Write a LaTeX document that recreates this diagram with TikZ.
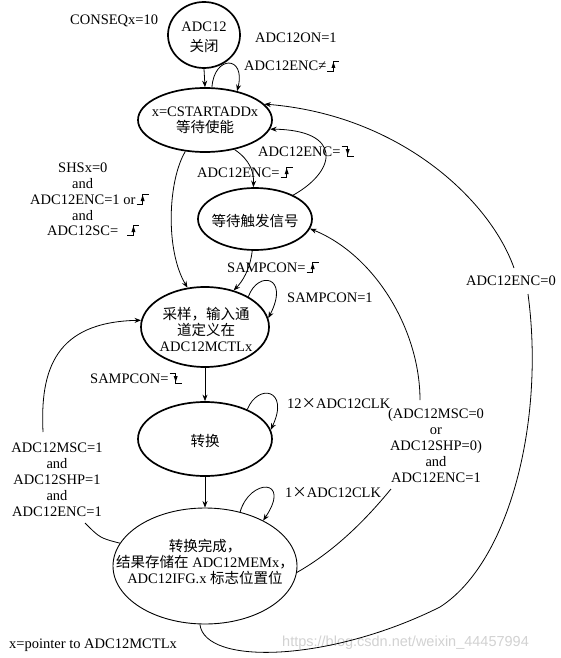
\documentclass[tikz,border=0pt]{standalone}
\usepackage{fontspec}
\setmainfont{Liberation Serif}
\newfontfamily\cjk{Noto Sans CJK SC}
\newfontfamily\wmfont{Liberation Sans}
\usetikzlibrary{shapes.geometric,arrows.meta}
\begin{document}
\begin{tikzpicture}[x=1pt,y=-1pt,
  every node/.style={font=\fontsize{14.5}{16}\selectfont},
  st/.style={ellipse,draw,line width=1.7pt,inner sep=0pt},
  stthin/.style={ellipse,draw,line width=0.9pt,inner sep=0pt},
  txt/.style={align=center,inner sep=0pt},
  lbl/.style={inner sep=0pt,anchor=base west},
  conn/.style={line width=0.8pt,-{Stealth[length=6.5pt,width=5pt]}},
  wire/.style={line width=0.8pt},
  risepic/.pic={\draw[line width=0.9pt] (0,0) -- (6,0) -- (6,-10) -- (12,-10);
                \fill (6,-9) -- (4,-3) -- (8,-3) -- cycle;},
  fallpic/.pic={\draw[line width=0.9pt] (0,-10) -- (6,-10) -- (6,0) -- (12,0);
                \fill (6,-1) -- (4,-7) -- (8,-7) -- cycle;},
]
\useasboundingbox[fill=white] (0,0) rectangle (560,658);

% states
\node[st,minimum width=72pt,minimum height=66pt] (e1) at (204,35) {};
\node[txt,font=\fontsize{14.5}{20}\selectfont] (t1) at (204,37) {ADC12\\{\cjk 关闭}};
\node[st,minimum width=134pt,minimum height=64pt] (e2) at (205,120) {};
\node[txt] (t2) at (205,120) {x=CSTARTADDx\\{\cjk 等待使能}};
\node[st,minimum width=114pt,minimum height=62pt] (e3) at (255,219) {};
\node[txt] (t3) at (255,221) {\cjk 等待触发信号};
\node[st,minimum width=128pt,minimum height=80pt] (e4) at (205,327) {};
\node[txt] (t4) at (206,329) {{\cjk 采样，输入通}\\{\cjk 道定义在}\\ADC12MCTLx};
\node[st,minimum width=134pt,minimum height=74pt] (e5) at (205,439) {};
\node[txt] (t5) at (205,441) {\cjk 转换};
\node[stthin,minimum width=184pt,minimum height=116pt] (e6) at (205,566) {};
\node[txt] (t6) at (205,562) {{\cjk 转换完成，}\\{\cjk 结果存储在} ADC12MEMx{\cjk ，}\\ADC12IFG.x {\cjk 标志位置位}};

% simple labels
\node[lbl] (lcs) at (70,25) {CONSEQx=10};
\node[lbl] (lon) at (255,43) {ADC12ON=1};
\node[lbl] (lsc1) at (287,302) {SAMPCON=1};
\node[lbl] (l12) at (287,408) {12{\cjk ×}ADC12CLK};
\node[lbl] (l1c) at (285,497) {1{\cjk ×}ADC12CLK};
\node[lbl] (lptr) at (9,648) {x=pointer to ADC12MCTLx};
\node[lbl,font=\wmfont\fontsize{14.5}{16}\selectfont,text=gray!35] (wm) at (282,646) {https://blog.csdn.net/weixin\_44457994};

% labels with edge symbols
\node[lbl] (l1) at (244,71) {ADC12ENC≠};
\pic at ([xshift=1pt]l1.base east) {risepic};
\node[lbl] (l2) at (197,177) {ADC12ENC=};
\pic at ([xshift=1pt]l2.base east) {risepic};
\node[lbl] (l3) at (258,156) {ADC12ENC=};
\pic at ([xshift=1pt]l3.base east) {fallpic};
\node[lbl] (l4) at (227,272) {SAMPCON=};
\pic at ([xshift=1pt]l4.base east) {risepic};
\node[lbl] (l5) at (90,383) {SAMPCON=};
\pic at ([xshift=1pt]l5.base east) {fallpic};

\node[lbl] (s1) at (58,172) {SHSx=0};
\node[lbl] (s2) at (72,188) {and};
\node[lbl] (s3) at (30,204) {ADC12ENC=1 or};
\pic at ([xshift=1pt]s3.base east) {risepic};
\node[lbl] (s4) at (72,220) {and};
\node[lbl] (s5) at (47,235) {ADC12SC=};
\pic at ([xshift=9pt]s5.base east) {risepic};

% connectors
\draw[conn] (e1.south) -- (e2.north);
\draw[conn] (e2.78) .. controls (214,55) and (246,55) .. (e2.42);
\draw[conn] (e2.-45) .. controls (250,160) and (254,172) .. (e3.93);
\draw[conn] (e3.32) .. controls (338,170) and (342,130) .. (e2.-8);
\draw[conn] (e2.-122) .. controls (168,180) and (165,250) .. (e4.114);
\draw[conn] (e3.-95) .. controls (250,270) and (242,282) .. (e4.52);
\draw[conn] (e4.35) .. controls (258,270) and (290,276) .. (e4.8);
\draw[conn] (e4.south) -- (e5.north);
\draw[conn] (e5.35) .. controls (258,383) and (290,389) .. (e5.8);
\draw[conn] (e5.south) -- (e6.north);
\draw[conn] (e6.57) .. controls (250,478) and (292,478) .. (e6.38);

% left return
\node[align=center,inner sep=0pt] (lmsc) at (57,480) {ADC12MSC=1\\and\\ADC12SHP=1\\and\\ADC12ENC=1};
\coordinate (c1) at (85,523);
\coordinate (c2) at (43,432);
\draw[wire] (e6.165) .. controls (100,538) .. (c1);
\draw[conn] (c2) .. controls (40,370) and (55,322) .. (e4.174);

% right return to trigger wait
\node[align=center,inner sep=0pt] (lmsc0) at (436,446) {(ADC12MSC=0\\or\\ADC12SHP=0)\\and\\ADC12ENC=1};
\coordinate (c3) at (391,489);
\coordinate (c4) at (420,400);
\draw[wire] (e6.-4) .. controls (340,548) and (372,512) .. (c3);
\draw[conn] (c4) .. controls (420,330) and (375,255) .. (e3.-10);

% big return
\node (lenc0) at (511,281) {ADC12ENC=0};
\coordinate (c5) at (528,294);
\coordinate (c6) at (514,268);
\coordinate (w1) at (440,607);
\draw[wire] (e6.-95) .. controls (205,666) and (330,662) .. (w1) .. controls (510,562) and (545,420) .. (c5);
\draw[conn] (c6) .. controls (490,200) and (400,115) .. (e2.15);
\end{tikzpicture}
\end{document}
